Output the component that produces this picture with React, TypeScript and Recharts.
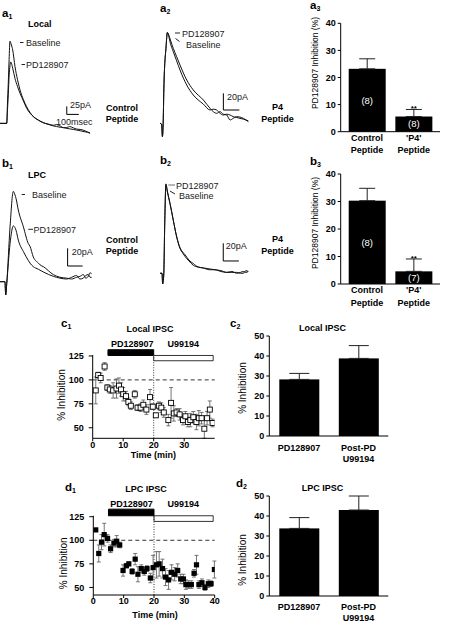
import React from 'react';
import {
  BarChart, Bar, XAxis, YAxis, ErrorBar, ScatterChart, Scatter,
  LineChart, Line, ReferenceLine, ReferenceArea,
} from 'recharts';

const FONT = '"Liberation Sans", Arial, Helvetica, sans-serif';

// ---- traces (ms, pA) ----
const a1Time = [0, 56, 62, 69, 76, 83, 89, 95, 106, 125, 145, 167, 195, 222, 250, 278, 320, 361, 400, 444, 470, 500, 530, 556, 580, 610, 640, 667, 700, 730, 750];
const a1Baseline = [0, 0, 60, 126, 200, 257, 252, 245, 229, 177, 138, 104, 74, 52, 34, 21, 10, 2, -3, -8, -10, -12, -13, -16, -17, -19, -21, -23, -26, -28, -31];
const a1Pd = [0, 0, 40, 90, 150, 180, 192, 188, 172, 140, 116, 94, 70, 47, 32, 21, 10, 2, -2, -6, -4, -8, -14, -13, -10, -14, -18, -19, -22, -27, -30];

const a2Time = [0, 10, 15, 19, 25, 38, 46, 55, 65, 83, 104, 125, 167, 208, 271, 313, 333, 354, 375, 396, 417, 438, 458, 479, 521, 552];
const a2Pd = [0, -1, -16, -5, 48, 92, 109, 106, 100, 90, 80, 70, 52, 40, 28, 18, 14, 12, 14, 11, 10, 4, 6, 8, 6, 2];
const a2Baseline = [0, -1, -16, -5, 48, 92, 109, 104, 96, 86, 75, 64, 46, 34, 23, 16, 17, 16, 12, 10, 11, 10, 8, 7, 5, 3];

const b1Time = [0, 33, 38, 45, 67, 89, 100, 107, 122, 156, 189, 200, 222, 256, 267, 289, 356, 400, 444, 478, 511, 533, 556, 572, 589, 600, 611];
const b1Baseline = [0, 0, -15, -2, 62, 102, 98, 94, 81, 62, 43, 40, 28, 21, 19, 17, 8, 5, 4, 3, 5, 6, 8, 4, 6, 10, 9];
const b1Pd = [0, 0, -15, -2, 43, 63, 61, 58, 47, 34, 24, 21, 17, 14, 13, 11, 6, 4, 3, 5, 7, 3, 4, 7, 8, 5, 5];

const b2Time = [0, 13, 17, 24, 30, 38, 47, 64, 85, 107, 128, 145, 160, 185, 213, 245, 277, 315, 352, 390, 427, 460, 491, 515, 533, 550, 565];
const b2Baseline = [0, 0, -12, -2, 53, 100, 92, 79, 60, 41, 28, 23, 19, 14, 9, 7, 6, 5, 4, 3, 1, 2, 0, 1, 2, 1, 2];
const b2Pd = [0, 0, -12, -2, 53, 101, 93, 79, 60, 41, 29, 24, 21, 15, 11, 7, 6, 4, 4, 2, 1, 1, 1, 0, 0, 3, 2];

// ---- bar summaries ----
const peptideCats = ['Control\nPeptide', "'P4'\nPeptide"];
const a3Mean = [23.2, 5.6];
const a3Sem = [3.7, 2.6];
const a3N = ['(8)', '(8)'];
const b3Mean = [30.3, 4.6];
const b3Sem = [4.5, 4.5];
const b3N = ['(8)', '(7)'];
const peptideSig = ['', '**'];

const drugCats = ['PD128907', 'Post-PD\nU99194'];
const c2Mean = [28.3, 38.8];
const c2Sem = [3.0, 6.4];
const d2Mean = [33.8, 43.0];
const d2Sem = [5.4, 7.0];

// ---- time courses (min, % of control) ----
const c1Time = [1.0, 1.8, 2.6, 3.9, 4.8, 5.6, 6.7, 7.8, 8.6, 9.3, 10.0, 10.9, 11.7, 12.5, 13.8, 14.7, 15.7, 16.6, 17.6, 18.8, 19.7, 20.7, 21.7, 22.5, 23.3, 24.8, 25.7, 26.6, 27.5, 28.5, 29.6, 30.4, 31.2, 32.0, 33.0, 34.0, 34.8, 35.7, 36.6, 37.5, 38.4, 39.3];
const c1Value = [89, 105, 102, 114, 92, 90, 89, 91, 94, 90, 85, 83, 77, 73, 85, 71, 71, 74, 69, 82, 72, 63, 73, 71, 66, 58, 76, 65, 66, 64, 58, 62, 56, 58, 61, 56, 60, 60, 49, 60, 69, 55];
const c1Sem = [14, 3, 5, 4, 3, 4, 8, 10, 8, 7, 7, 5, 4, 4, 4, 3, 4, 5, 5, 8, 3, 2, 4, 5, 5, 6, 16, 8, 4, 6, 5, 5, 5, 7, 6, 8, 8, 6, 10, 7, 9, 4];

const d1Time = [0.8, 1.8, 2.7, 3.6, 4.7, 5.7, 6.8, 7.7, 8.7, 9.8, 10.9, 11.7, 12.8, 13.8, 14.7, 15.8, 16.8, 17.7, 18.8, 19.7, 20.8, 21.7, 22.8, 23.8, 24.8, 25.8, 26.8, 27.8, 28.8, 29.7, 30.5, 31.3, 32.3, 33.2, 34.0, 34.8, 35.8, 36.8, 37.9, 38.8, 39.9];
const d1Value = [111, 86, 98, 106, 102, 91, 97, 99, 95, 68, 73, 75, 67, 80, 64, 70, 67, 70, 60, 71, 74, 75, 70, 61, 58, 66, 64, 68, 59, 59, 53, 53, 53, 65, 74, 53, 55, 50, 54, 54, 69];
const d1Sem = [1, 9, 8, 12, 4, 4, 4, 6, 3, 6, 2, 2, 3, 6, 8, 4, 4, 3, 5, 13, 14, 13, 10, 9, 10, 8, 7, 7, 5, 5, 5, 4, 4, 4, 10, 4, 4, 3, 4, 3, 9];

const tickStyle = { fontSize: 9, fontWeight: 'bold', fill: '#000', fontFamily: FONT };

function TracePanel({ left, top, width, height, xMax, yMin, yMax, time, first, second, barX, barY, barPa, barMs }: any) {
  const data = time.map((t: number, i: number) => ({ t, first: first[i], second: second[i] }));
  return (
    <div style={{ position: 'absolute', left, top }}>
      <LineChart width={width} height={height} data={data} margin={{ top: 0, right: 0, bottom: 0, left: 0 }}>
        <XAxis type="number" dataKey="t" domain={[0, xMax]} hide allowDataOverflow />
        <YAxis type="number" domain={[yMin, yMax]} hide allowDataOverflow />
        <Line type="monotone" dataKey="first" stroke="#111" strokeWidth={1} dot={false} isAnimationActive={false} />
        <Line type="monotone" dataKey="second" stroke="#111" strokeWidth={1} dot={false} isAnimationActive={false} />
        <ReferenceLine segment={[{ x: barX, y: barY }, { x: barX, y: barY + barPa }]} stroke="#000" ifOverflow="visible" />
        <ReferenceLine segment={[{ x: barX, y: barY }, { x: barX + barMs, y: barY }]} stroke="#000" ifOverflow="visible" />
      </LineChart>
    </div>
  );
}

function MultiTick({ x, y, payload, gap1, gap2 }: any) {
  const lines = String(payload.value).split('\n');
  return (
    <g>
      {lines.map((s, i) => (
        <text key={i} x={x} y={y + (i === 0 ? gap1 : gap2)} dy="0.35em" textAnchor="middle"
          fontSize={9} fontWeight="bold" fill="#000" fontFamily={FONT}>{s}</text>
      ))}
    </g>
  );
}

function BarShape(p: any) {
  const { x, y, width, height, payload } = p;
  const perUnit = payload.mean ? height / payload.mean : 0;
  return (
    <g>
      <rect x={x} y={y} width={width} height={height} fill="#000" />
      {payload.n ? (
        <text x={x + width / 2} y={y + height / 2} dy="0.35em" textAnchor="middle" fill="#fff" fontSize={9.5} fontFamily={FONT}>{payload.n}</text>
      ) : null}
      {payload.sig ? (
        <text x={x + width / 2} y={y - payload.sem * perUnit + 2} textAnchor="middle" fontSize={8} fontWeight="bold" fill="#000" fontFamily={FONT}>{payload.sig}</text>
      ) : null}
    </g>
  );
}

function BarPanel({ left, top, width, height, margin, yWidth, xHeight, cats, mean, sem, n, sig, yMax, yTicks, barSize, cap, gap1, gap2, padding }: any) {
  const data = cats.map((c: string, i: number) => ({
    cat: c, mean: mean[i], sem: sem[i], range: [0, sem[i]], n: n ? n[i] : '', sig: sig ? sig[i] : '',
  }));
  return (
    <div style={{ position: 'absolute', left, top }}>
      <BarChart width={width} height={height} data={data} margin={margin}>
        <XAxis dataKey="cat" height={xHeight} interval={0} tickLine={false} tickSize={0} tickMargin={0}
          axisLine={{ stroke: '#000' }} padding={padding}
          tick={(props: any) => <MultiTick {...props} gap1={gap1} gap2={gap2} />} />
        <YAxis type="number" width={yWidth} domain={[0, yMax]} ticks={yTicks} tickSize={3} tickMargin={2}
          axisLine={{ stroke: '#000' }} tickLine={{ stroke: '#000' }} tick={tickStyle} />
        <Bar dataKey="mean" barSize={barSize} fill="#000" shape={BarShape} isAnimationActive={false}>
          <ErrorBar dataKey="range" width={cap} stroke="#222" strokeWidth={1} direction="y" />
        </Bar>
      </BarChart>
    </div>
  );
}

const OpenSquare = (p: any) => (
  <rect x={p.cx - 2.5} y={p.cy - 2.5} width={5} height={5} fill="#fff" stroke="#000" strokeWidth={0.9} />
);
const FilledSquare = (p: any) => (
  <rect x={p.cx - 2.6} y={p.cy - 2.6} width={5.2} height={5.2} fill="#000" />
);

function TimePanel({ left, top, width, height, margin, yWidth, yMin, time, value, sem, xTicks, shape, blackBar, whiteBar }: any) {
  const data = time.map((t: number, i: number) => ({ t, v: value[i], e: sem[i] }));
  return (
    <div style={{ position: 'absolute', left, top }}>
      <ScatterChart width={width} height={height} margin={margin}>
        <XAxis type="number" dataKey="t" domain={[0, 40]} ticks={xTicks} allowDataOverflow height={20}
          tickSize={3} tickMargin={0} axisLine={{ stroke: '#000' }} tickLine={{ stroke: '#000' }} tick={tickStyle} />
        <YAxis type="number" dataKey="v" domain={[yMin, 126]} ticks={[50, 75, 100, 125]} allowDataOverflow width={yWidth}
          tickSize={4} tickMargin={5} axisLine={{ stroke: '#000' }} tickLine={{ stroke: '#000' }} tick={tickStyle} />
        <ReferenceLine y={100} stroke="#333" strokeDasharray="4 3" />
        <ReferenceLine x={20} stroke="#333" strokeDasharray="1 1.5" />
        <ReferenceArea x1={5} x2={20} y1={blackBar[0]} y2={blackBar[1]} fill="#000" fillOpacity={1} stroke="#000" ifOverflow="visible" />
        <ReferenceArea x1={20} x2={39.5} y1={whiteBar[0]} y2={whiteBar[1]} fill="#fff" fillOpacity={1} stroke="#000" strokeWidth={0.8} ifOverflow="visible" />
        <Scatter data={data} shape={shape} isAnimationActive={false}>
          <ErrorBar dataKey="e" direction="y" width={2} stroke="#666" strokeWidth={0.9} />
        </Scatter>
      </ScatterChart>
    </div>
  );
}

function T({ x, y, s = 9, b = false, a = 'start', c = '#000', children }: any) {
  return (
    <text x={x} y={y} fontSize={s} fontWeight={b ? 'bold' : 'normal'} textAnchor={a} fill={c} fontFamily={FONT}>{children}</text>
  );
}

function PanelLabel({ x, y, letter, sub }: any) {
  return (
    <text x={x} y={y} fontSize={11.5} fontWeight="bold" fill="#000" fontFamily={FONT}>
      {letter}<tspan fontSize={7} dy={2}>{sub}</tspan>
    </text>
  );
}

function VLabel({ x, y, s = 10, children }: any) {
  return (
    <text transform={`translate(${x},${y}) rotate(-90)`} dy="0.35em" textAnchor="middle" fontSize={s} fill="#000" fontFamily={FONT}>{children}</text>
  );
}

export default function App() {
  return (
    <div style={{ position: 'absolute', left: 0, top: 0, width: 452, height: 624, background: '#fff', fontFamily: FONT, overflow: 'hidden' }}>
      <TracePanel left={0} top={36} width={92} height={104} xMax={766} yMin={-52} yMax={273}
        time={a1Time} first={a1Baseline} second={a1Pd} barX={556} barY={28} barPa={25} barMs={100} />
      <TracePanel left={160} top={28} width={92} height={112} xMax={575} yMin={-20} yMax={114.4}
        time={a2Time} first={a2Pd} second={a2Baseline} barX={396} barY={16} barPa={20} barMs={100} />
      <TracePanel left={0} top={186} width={94} height={114} xMax={627} yMin={-20.7} yMax={108.1}
        time={b1Time} first={b1Baseline} second={b1Pd} barX={451} barY={17.7} barPa={20} barMs={100} />
      <TracePanel left={160} top={180} width={92} height={110} xMax={589} yMin={-18.9} yMax={105.4}
        time={b2Time} first={b2Baseline} second={b2Pd} barX={405} barY={13.9} barPa={20} barMs={100} />

      <BarPanel left={300} top={13} width={145} height={155} margin={{ top: 10.3, right: 5, bottom: 16.3, left: 0 }}
        yWidth={40.7} xHeight={20} cats={peptideCats} mean={a3Mean} sem={a3Sem} n={a3N} sig={peptideSig}
        yMax={40} yTicks={[0, 10, 20, 30, 40]} barSize={37} cap={8} gap1={6} gap2={18.5} padding={{ left: 3, right: 3 }} />
      <BarPanel left={300} top={164} width={145} height={155} margin={{ top: 10, right: 5, bottom: 15, left: 0 }}
        yWidth={40.7} xHeight={20} cats={peptideCats} mean={b3Mean} sem={b3Sem} n={b3N} sig={peptideSig}
        yMax={40} yTicks={[0, 10, 20, 30, 40]} barSize={37} cap={8} gap1={6} gap2={18.5} padding={{ left: 3, right: 3 }} />
      <BarPanel left={235} top={326} width={160} height={150} margin={{ top: 10, right: 6.7, bottom: 10, left: 0 }}
        yWidth={34.3} xHeight={30} cats={drugCats} mean={c2Mean} sem={c2Sem}
        yMax={50} yTicks={[0, 10, 20, 30, 40, 50]} barSize={40} cap={10} gap1={12} gap2={23} padding={{ left: 0, right: 0 }} />
      <BarPanel left={235} top={486} width={160} height={138} margin={{ top: 10, right: 6.7, bottom: 0, left: 0 }}
        yWidth={34.3} xHeight={28} cats={drugCats} mean={d2Mean} sem={d2Sem}
        yMax={50} yTicks={[0, 10, 20, 30, 40, 50]} barSize={40} cap={10} gap1={11} gap2={22} padding={{ left: 0, right: 0 }} />

      <TimePanel left={40} top={340} width={180} height={125} margin={{ top: 15, right: 5.3, bottom: 6.7, left: 0 }}
        yWidth={52.7} yMin={39} time={c1Time} value={c1Value} sem={c1Sem} xTicks={[0, 10, 20, 30]}
        shape={OpenSquare} blackBar={[125.5, 131.5]} whiteBar={[120, 125.5]} />
      <TimePanel left={40} top={500} width={180} height={124} margin={{ top: 15.75, right: 5.3, bottom: 9, left: 0 }}
        yWidth={53.3} yMin={42} time={d1Time} value={d1Value} sem={d1Sem} xTicks={[0, 10, 20, 30, 40]}
        shape={FilledSquare} blackBar={[126, 133]} whiteBar={[120, 126]} />

      <svg width={452} height={624} style={{ position: 'absolute', left: 0, top: 0, pointerEvents: 'none' }}>
        {/* row a */}
        <PanelLabel x={2} y={16.5} letter="a" sub="1" />
        <T x={28} y={27} b>Local</T>
        <line x1={20} y1={42.5} x2={23.5} y2={42.5} stroke="#222" />
        <T x={26} y={45.5} c="#222">Baseline</T>
        <line x1={21.5} y1={64.5} x2={25} y2={64.5} stroke="#222" />
        <T x={26} y={67.5} c="#222">PD128907</T>
        <T x={70} y={108} c="#222">25pA</T>
        <T x={56} y={124.5} c="#222">100msec</T>
        <T x={122} y={110.5} b a="middle">Control</T>
        <T x={122} y={122} b a="middle">Peptide</T>

        <PanelLabel x={160} y={12} letter="a" sub="2" />
        <line x1={175} y1={33} x2={180} y2={33} stroke="#222" />
        <T x={182} y={36.5} c="#222">PD128907</T>
        <line x1={175.5} y1={38.5} x2={179.5} y2={41.5} stroke="#222" />
        <T x={186} y={47.5} c="#222">Baseline</T>
        <T x={227} y={100} c="#222">20pA</T>
        <T x={277.5} y={109.5} b a="middle">P4</T>
        <T x={277.5} y={122} b a="middle">Peptide</T>

        <PanelLabel x={310} y={9} letter="a" sub="3" />
        <VLabel x={315} y={63} s={8.5}>PD128907 Inhibition (%)</VLabel>

        {/* row b */}
        <PanelLabel x={2} y={167} letter="b" sub="1" />
        <T x={28} y={177.5} b>LPC</T>
        <line x1={21.7} y1={194.5} x2={25} y2={194.5} stroke="#222" />
        <T x={32} y={198} c="#222">Baseline</T>
        <line x1={28.3} y1={229.3} x2={33} y2={229.3} stroke="#222" />
        <T x={33.5} y={232.5} c="#222">PD128907</T>
        <T x={71.7} y={255} c="#222">20pA</T>
        <T x={122} y={242.5} b a="middle">Control</T>
        <T x={122} y={254} b a="middle">Peptide</T>

        <PanelLabel x={160} y={164} letter="b" sub="2" />
        <line x1={168.3} y1={185} x2={175} y2={185} stroke="#888" strokeWidth={1.2} />
        <T x={176} y={188.5} c="#222">PD128907</T>
        <line x1={170} y1={191} x2={175} y2={194} stroke="#222" />
        <T x={179} y={198.5} c="#222">Baseline</T>
        <T x={225.7} y={249} c="#222">20pA</T>
        <T x={277.5} y={242} b a="middle">P4</T>
        <T x={277.5} y={254} b a="middle">Peptide</T>

        <PanelLabel x={310} y={165} letter="b" sub="3" />
        <VLabel x={315} y={223} s={8.5}>PD128907 Inhibition (%)</VLabel>

        {/* row c */}
        <PanelLabel x={61} y={327} letter="c" sub="1" />
        <T x={150} y={331.5} b a="middle">Local IPSC</T>
        <T x={132.2} y={346.5} b a="middle">PD128907</T>
        <T x={183.3} y={346.5} b a="middle">U99194</T>
        <VLabel x={61.7} y={395}>% Inhibition</VLabel>
        <T x={153.3} y={458} b a="middle">Time (min)</T>

        <PanelLabel x={230} y={327} letter="c" sub="2" />
        <T x={322.5} y={331} b a="middle">Local IPSC</T>
        <VLabel x={242.3} y={388}>% Inhibition</VLabel>

        {/* row d */}
        <PanelLabel x={65} y={491} letter="d" sub="1" />
        <T x={146} y={491.5} b a="middle">LPC IPSC</T>
        <T x={131.5} y={507} b a="middle">PD128907</T>
        <T x={183.3} y={507} b a="middle">U99194</T>
        <VLabel x={63.3} y={563.3}>% Inhibition</VLabel>
        <T x={155} y={618} b a="middle">Time (min)</T>

        <PanelLabel x={236} y={487} letter="d" sub="2" />
        <T x={322.5} y={491} b a="middle">LPC IPSC</T>
        <VLabel x={242.3} y={560}>% Inhibition</VLabel>
      </svg>
    </div>
  );
}
